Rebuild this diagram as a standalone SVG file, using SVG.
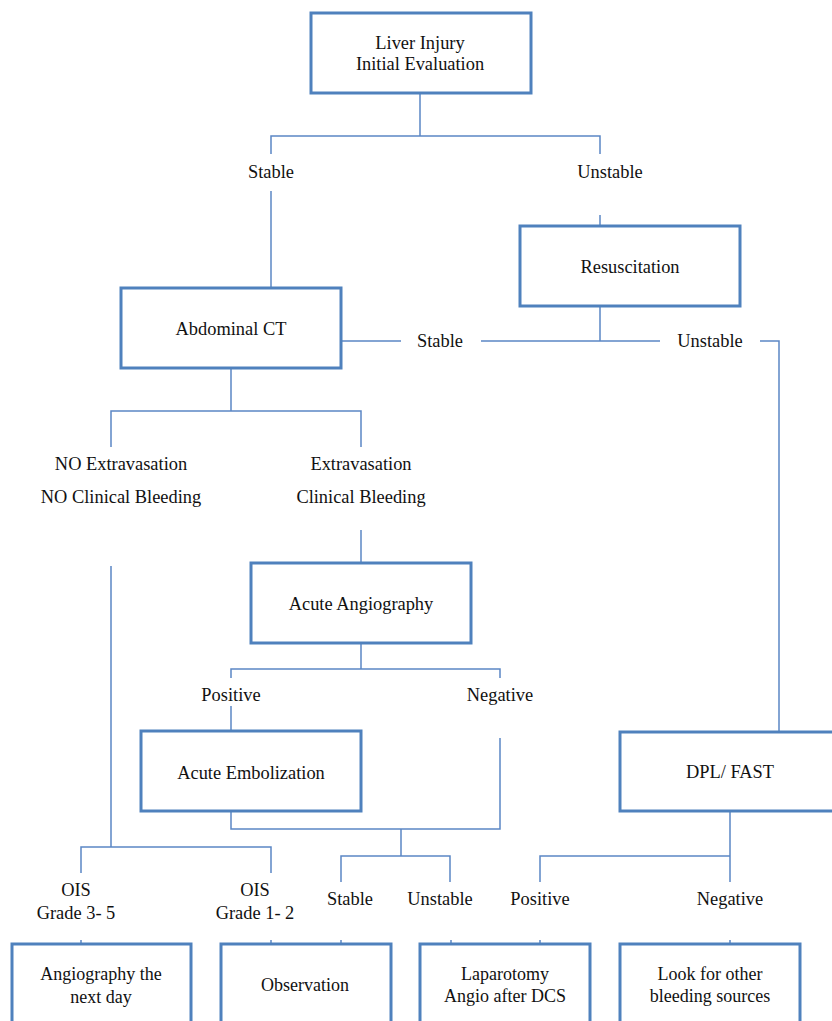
<svg xmlns="http://www.w3.org/2000/svg" width="832" height="1021" viewBox="0 0 832 1021">
<style>
.box{fill:#fff;stroke:#4f81bd;stroke-width:3}
.ln{fill:none;stroke:#5b87c5;stroke-width:1.5}
text{font-family:"Liberation Serif","Times New Roman",serif;font-size:18.4px;fill:#111;text-anchor:middle}
.sm{font-size:18px}
</style>
<rect width="832" height="1021" fill="#fff"/>
<g id="connectors">
<path class="ln" d="M420,93 V136 M271,154 V136 H600 V154"/>
<path class="ln" d="M271,191 V288"/>
<path class="ln" d="M600,215 V226"/>
<path class="ln" d="M341,341 H401 M481,341 H660 M600,306 V341 M760,341 H779 V732"/>
<path class="ln" d="M231,368 V411 M111,447 V411 H361 V447"/>
<path class="ln" d="M361,530 V563"/>
<path class="ln" d="M361,643 V669 M231,678 V669 H500 V678"/>
<path class="ln" d="M231,706 V731"/>
<path class="ln" d="M500,738 V829 H231 V811 M401,829 V856 M341,882 V856 H450 V882"/>
<path class="ln" d="M111,566 V847 M81,873 V847 H271 V873"/>
<path class="ln" d="M730,811 V856 M540,882 V856 H730 V882"/>
<path class="ln" d="M81,940 V944 M271,940 V944 M341,940 V944 M451,940 V944 M540,940 V944 M730,940 V944"/>
</g>
<g id="n-liver"><rect class="box" x="311" y="13" width="220" height="80"/><text x="420" y="49">Liver Injury</text><text x="420" y="70">Initial Evaluation</text></g>
<g id="l-stable1"><text x="271" y="178">Stable</text></g>
<g id="l-unstable1"><text x="610" y="178">Unstable</text></g>
<g id="n-resus"><rect class="box" x="520" y="226" width="220" height="80"/><text x="630" y="273">Resuscitation</text></g>
<g id="n-ct"><rect class="box" x="121" y="288" width="220" height="80"/><text x="231" y="335">Abdominal CT</text></g>
<g id="l-stable2"><text x="440" y="347">Stable</text></g>
<g id="l-unstable2"><text x="710" y="347">Unstable</text></g>
<g id="l-noextra"><text x="121" y="470">NO Extravasation</text><text x="121" y="503">NO Clinical Bleeding</text></g>
<g id="l-extra"><text x="361" y="470">Extravasation</text><text x="361" y="503">Clinical Bleeding</text></g>
<g id="n-angio"><rect class="box" x="251" y="563" width="220" height="80"/><text x="361" y="610">Acute Angiography</text></g>
<g id="l-positive1"><text x="231" y="701">Positive</text></g>
<g id="l-negative1"><text x="500" y="701">Negative</text></g>
<g id="n-embol"><rect class="box" x="141" y="731" width="220" height="80"/><text x="251" y="779">Acute Embolization</text></g>
<g id="n-dpl"><rect class="box" x="620" y="732" width="224" height="79"/><text x="730" y="778">DPL/ FAST</text></g>
<g id="l-ois35"><text x="76" y="896">OIS</text><text x="76" y="919">Grade 3- 5</text></g>
<g id="l-ois12"><text x="255" y="896">OIS</text><text x="255" y="919">Grade 1- 2</text></g>
<g id="l-stable3"><text x="350" y="905">Stable</text></g>
<g id="l-unstable3"><text x="440" y="905">Unstable</text></g>
<g id="l-positive2"><text x="540" y="905">Positive</text></g>
<g id="l-negative2"><text x="730" y="905">Negative</text></g>
<g id="n-angionext"><rect class="box" x="12" y="944" width="179" height="82"/><text class="sm" x="101" y="980">Angiography the</text><text class="sm" x="101" y="1003">next day</text></g>
<g id="n-obs"><rect class="box" x="221" y="944" width="170" height="82"/><text class="sm" x="305" y="991">Observation</text></g>
<g id="n-lap"><rect class="box" x="420" y="944" width="170" height="82"/><text class="sm" x="505" y="980">Laparotomy</text><text class="sm" x="505" y="1002">Angio after DCS</text></g>
<g id="n-look"><rect class="box" x="620" y="944" width="180" height="82"/><text class="sm" x="710" y="980">Look for other</text><text class="sm" x="710" y="1002">bleeding sources</text></g>
</svg>
